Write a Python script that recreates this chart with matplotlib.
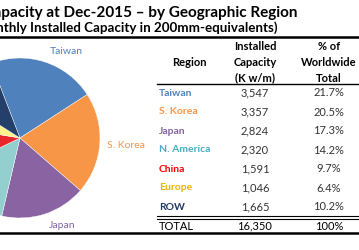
import matplotlib.pyplot as plt

regions = ["Taiwan", "S. Korea", "Japan", "N. America", "China", "Europe", "ROW"]
capacity = [3547, 3357, 2824, 2320, 1591, 1046, 1665]
cap_labels = ["3,547", "3,357", "2,824", "2,320", "1,591", "1,046", "1,665"]
pct_labels = ["21.7%", "20.5%", "17.3%", "14.2%", "9.7%", "6.4%", "10.2%"]
total_cap = "16,350"
total_pct = "100%"

wedge_colors = ["#4F81BD", "#F79646", "#8A64A2", "#93CFCF", "#E8262B", "#FFF28A", "#243F6A"]
text_colors = ["#4F81BD", "#F79646", "#8064A2", "#4BACC6", "#FF0000", "#E6B800", "#1F3864"]

plt.rcParams['font.family'] = ['Lato', 'DejaVu Sans']

W, H = 359, 250
fig = plt.figure(figsize=(W / 100, H / 100), dpi=100)
ax = fig.add_axes([0, 0, 1, 1])

def Y(y):
    # pixel row (from top) -> data y
    return H - y

# pie, cut off at the left edge
ax.pie(capacity, colors=wedge_colors, startangle=111, counterclock=False,
       center=(20, Y(138)), radius=80,
       wedgeprops=dict(edgecolor="white", linewidth=0.3))
ax.set_xlim(0, W)
ax.set_ylim(0, H)
ax.set_aspect("auto")
ax.axis("off")

ax.text(66, Y(52), "Taiwan", color=text_colors[0], fontsize=7.5, ha="center", va="center")
ax.text(126, Y(145), "S. Korea", color=text_colors[1], fontsize=7.5, ha="center", va="center")
ax.text(62, Y(225), "Japan", color=text_colors[2], fontsize=7.5, ha="center", va="center")

# title (left part runs off the slide crop)
ax.text(298, Y(13), "Installed Capacity at Dec-2015 \u2013 by Geographic Region",
        fontsize=11, fontweight="bold", ha="right", va="center", color="black")
ax.text(277, Y(28), "(Monthly Installed Capacity in 200mm-equivalents)",
        fontsize=9.6, fontweight="bold", ha="right", va="center", color="black")

# frame lines
ax.plot([0, W], [Y(37), Y(37)], color="black", lw=1.8)
ax.plot([0, W], [Y(233), Y(233)], color="black", lw=1.8)

# table header
hdr_fs = 8
ax.text(189, Y(62), "Region", fontsize=hdr_fs, fontweight="bold", ha="center", va="center")
for i, line in enumerate(["Installed", "Capacity", "(K w/m)"]):
    ax.text(255, Y(46 + 16 * i), line, fontsize=hdr_fs, fontweight="bold", ha="center", va="center")
for i, line in enumerate(["% of", "Worldwide", "Total"]):
    ax.text(329, Y(46 + 16 * i), line, fontsize=hdr_fs, fontweight="bold", ha="center", va="center")
ax.plot([157, W], [Y(84), Y(84)], color="black", lw=1.0)

# table rows
row_y = [93, 112, 131, 150, 169, 188, 207]
for name, cl, pl, tc, ry in zip(regions, cap_labels, pct_labels, text_colors, row_y):
    ax.text(159, Y(ry), name, color=tc, fontsize=7.5, fontweight="bold", ha="left", va="center")
    ax.text(255, Y(ry), cl, color="#333333", fontsize=8, ha="center", va="center")
    ax.text(329, Y(ry), pl, color="#333333", fontsize=8, ha="center", va="center")

ax.plot([157, W], [Y(216), Y(216)], color="black", lw=0.8)
ax.plot([157, W], [Y(218.5), Y(218.5)], color="black", lw=0.8)
ax.text(159, Y(226), "TOTAL", color="black", fontsize=8, ha="left", va="center")
ax.text(255, Y(226), total_cap, color="black", fontsize=8, ha="center", va="center")
ax.text(329, Y(226), total_pct, color="black", fontsize=8, ha="center", va="center")

fig.savefig("out.png", dpi=100, facecolor="white")
